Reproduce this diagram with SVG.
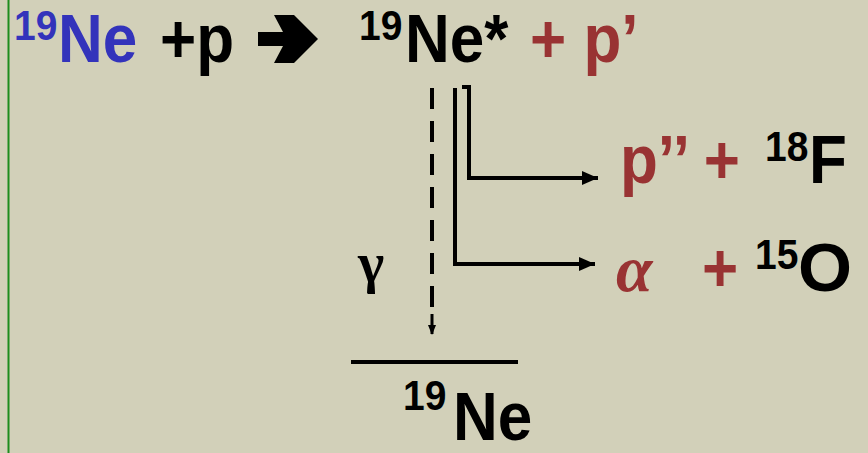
<svg xmlns="http://www.w3.org/2000/svg" width="868" height="453" viewBox="0 0 868 453">
<style>
.t{font-family:"Liberation Sans",Arial,sans-serif;font-weight:bold;font-size:62px;fill:#000}
.s{font-family:"Liberation Sans",Arial,sans-serif;font-weight:bold;font-size:39px;fill:#000}
.b{fill:#3333BB}
.r{fill:#993333}
.gk{font-family:"Liberation Serif","Times New Roman",serif;font-weight:bold}
.ln{stroke:#000;stroke-width:4;fill:none}
</style>
<defs>
<marker id="ah" markerWidth="10" markerHeight="8" refX="9" refY="4" orient="auto" markerUnits="userSpaceOnUse" viewBox="0 0 10 8">
<path d="M0,0 L10,4 L0,8 Z" fill="#000"/>
</marker>
<marker id="ah2" markerWidth="16" markerHeight="14" refX="16" refY="7" orient="auto" markerUnits="userSpaceOnUse" viewBox="0 0 16 14">
<path d="M0,0 L16,7 L0,14 Z" fill="#000"/>
</marker>
</defs>
<rect width="868" height="453" fill="#D2D0B9"/>
<line x1="8.5" y1="0" x2="8.5" y2="453" stroke="#1E8C1E" stroke-width="2"/>
<g id="reaction">
<g transform="matrix(1 0 0 1.1 0 -6.2)">
<text class="s b" x="14" y="42">19</text>
<text class="t b" x="58" y="62">Ne</text>
<text class="t" x="160" y="62">+p</text>
</g>
<polygon points="258,32 283,32 274,15 294,15 318,39 294,63 274,63 283,46 258,46" fill="#000"/>
</g>
<g id="compound">
<g transform="matrix(1 0 0 1.1 0 -6.2)">
<text class="s" x="359" y="42">19</text>
<text class="t" x="405" y="62">Ne*</text>
<text class="t r" x="530" y="62">+ p’</text>
</g>
</g>
<g id="connectors">
<path class="ln" d="M432,88 L432,318" stroke-dasharray="21,12"/>
<line x1="432" y1="314" x2="432" y2="334" stroke="#000" stroke-width="3" marker-end="url(#ah)"/>
<path class="ln" d="M455,88 L455,264 L595,264" marker-end="url(#ah2)"/>
<path class="ln" d="M462,87 L469,87 L469,178 L598,178" marker-end="url(#ah2)"/>
<line x1="351" y1="362" x2="518" y2="362" stroke="#000" stroke-width="4"/>
</g>
<g id="branch-p">
<g transform="matrix(1 0 0 1.1 0 -18.3)">
<text class="t r" x="620" y="183">p’’ +</text>
<text class="s" x="765" y="163">18</text>
<text class="t" x="809" y="183">F</text>
</g>
</g>
<g id="branch-alpha">
<text class="gk" x="616" y="291" font-size="66" font-style="italic" fill="#993333">α</text>
<g transform="matrix(1 0 0 1.1 0 -29.1)">
<text class="t r" x="702" y="291">+</text>
<text class="s" x="755" y="271">15</text>
<text class="t" x="798" y="291" textLength="54" lengthAdjust="spacingAndGlyphs">O</text>
</g>
</g>
<g id="gamma">
<text class="gk" x="358" y="282" font-size="56" fill="#000">γ</text>
</g>
<g id="ground">
<g transform="matrix(1 0 0 1.1 0 -44)">
<text class="s" x="403" y="413" font-size="44">19</text>
<text class="t" x="453" y="440">Ne</text>
</g>
</g>
</svg>
